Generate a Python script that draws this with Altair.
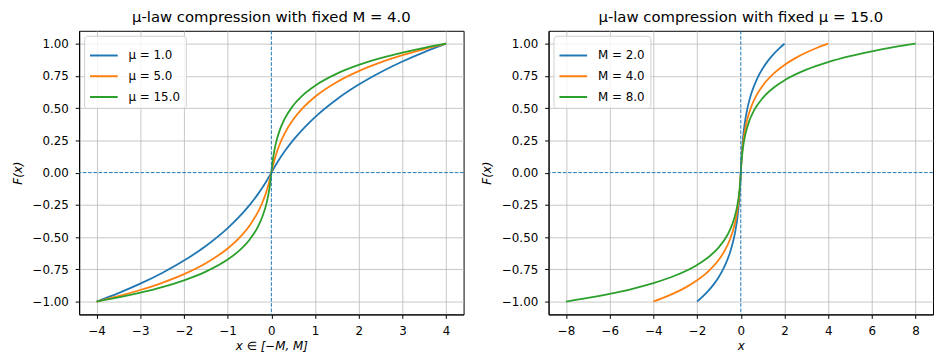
import altair as alt
import pandas as pd

BLUE, ORANGE, GREEN = "#1f77b4", "#ff7f0e", "#2ca02c"

# ---- left panel: fixed M = 4.0 ----
X_LEFT = [-4, -3.5, -3, -2.5, -2, -1.5, -1, -0.75, -0.5, -0.3, -0.2, -0.1, -0.05, -0.025, 0,
          0.025, 0.05, 0.1, 0.2, 0.3, 0.5, 0.75, 1, 1.5, 2, 2.5, 3, 3.5, 4]
F_MU1 = [-1.0, -0.9345, -0.8614, -0.7784, -0.6826, -0.5693, -0.4307, -0.3477, -0.2519, -0.1630,
         -0.1133, -0.0592, -0.0303, -0.0153, 0.0,
         0.0153, 0.0303, 0.0592, 0.1133, 0.1630, 0.2519, 0.3477, 0.4307, 0.5693, 0.6826,
         0.7784, 0.8614, 0.9345, 1.0]
F_MU5 = [-1.0, -0.9584, -0.9107, -0.8549, -0.7876, -0.7029, -0.5885, -0.5118, -0.4115, -0.3010,
         -0.2277, -0.1332, -0.0733, -0.0387, 0.0,
         0.0387, 0.0733, 0.1332, 0.2277, 0.3010, 0.4115, 0.5118, 0.5885, 0.7029, 0.7876,
         0.8549, 0.9107, 0.9584, 1.0]
F_MU15 = [-1.0, -0.9681, -0.9313, -0.8881, -0.8353, -0.7680, -0.6745, -0.6095, -0.5206, -0.4147,
          -0.3372, -0.2229, -0.1361, -0.0775, 0.0,
          0.0775, 0.1361, 0.2229, 0.3372, 0.4147, 0.5206, 0.6095, 0.6745, 0.7680, 0.8353,
          0.8881, 0.9313, 0.9681, 1.0]
LEFT_LABELS = ["μ = 1.0", "μ = 5.0", "μ = 15.0"]

# ---- right panel: fixed mu = 15.0 ----
X_M2 = [-2, -1.75, -1.5, -1.25, -1, -0.75, -0.5, -0.375, -0.25, -0.15, -0.1, -0.05, -0.025, -0.0125, 0,
        0.0125, 0.025, 0.05, 0.1, 0.15, 0.25, 0.375, 0.5, 0.75, 1, 1.25, 1.5, 1.75, 2]
F_M2 = [-1.0, -0.9624, -0.9193, -0.8687, -0.8074, -0.7296, -0.6232, -0.5506, -0.4537, -0.3432,
        -0.2668, -0.1630, -0.0927, -0.0500, 0.0,
        0.0500, 0.0927, 0.1630, 0.2668, 0.3432, 0.4537, 0.5506, 0.6232, 0.7296, 0.8074,
        0.8687, 0.9193, 0.9624, 1.0]
X_M4 = [-4, -3.5, -3, -2.5, -2, -1.5, -1, -0.75, -0.5, -0.3, -0.2, -0.1, -0.05, -0.025, 0,
        0.025, 0.05, 0.1, 0.2, 0.3, 0.5, 0.75, 1, 1.5, 2, 2.5, 3, 3.5, 4]
F_M4 = [-1.0, -0.9681, -0.9313, -0.8881, -0.8353, -0.7680, -0.6745, -0.6095, -0.5206, -0.4147,
        -0.3372, -0.2229, -0.1361, -0.0775, 0.0,
        0.0775, 0.1361, 0.2229, 0.3372, 0.4147, 0.5206, 0.6095, 0.6745, 0.7680, 0.8353,
        0.8881, 0.9313, 0.9681, 1.0]
X_M8 = [-8, -7, -6, -5, -4, -3, -2, -1.5, -1, -0.6, -0.4, -0.2, -0.1, -0.05, -0.02, 0,
        0.02, 0.05, 0.1, 0.2, 0.4, 0.6, 1, 1.5, 2, 3, 4, 5, 6, 7, 8]
F_M8 = [-1.0, -0.9724, -0.9406, -0.9030, -0.8572, -0.7983, -0.7160, -0.6583, -0.5781, -0.4801,
        -0.4058, -0.2891, -0.1911, -0.1167, -0.0547, 0.0,
        0.0547, 0.1167, 0.1911, 0.2891, 0.4058, 0.4801, 0.5781, 0.6583, 0.7160, 0.7983,
        0.8572, 0.9030, 0.9406, 0.9724, 1.0]
RIGHT_LABELS = ["M = 2.0", "M = 4.0", "M = 8.0"]

Y_TICKS = [-1.0, -0.75, -0.5, -0.25, 0.0, 0.25, 0.5, 0.75, 1.0]
X_TICKS_LEFT = [-4, -3, -2, -1, 0, 1, 2, 3, 4]
X_TICKS_RIGHT = [-8, -6, -4, -2, 0, 2, 4, 6, 8]


def build_df(xs_list, ys_list, labels):
    rows = []
    for xs, ys, lab in zip(xs_list, ys_list, labels):
        for i, (a, b) in enumerate(zip(xs, ys)):
            rows.append({"x": a, "y": b, "label": lab, "i": i})
    return pd.DataFrame(rows)


df_left = build_df([X_LEFT, X_LEFT, X_LEFT], [F_MU1, F_MU5, F_MU15], LEFT_LABELS)
df_right = build_df([X_M2, X_M4, X_M8], [F_M2, F_M4, F_M8], RIGHT_LABELS)
zero_df = pd.DataFrame({"z": [0.0]})

GRID_COLOR = {"condition": {"test": "datum.value === 0", "value": "transparent"},
              "value": "#b8b8b8"}


def panel(df, xdom, xticks, xtitle, title, labels):
    xs = alt.Scale(domain=xdom, nice=False, zero=False)
    ys = alt.Scale(domain=[-1.1, 1.1], nice=False, zero=False)
    xaxis = alt.Axis(values=xticks, format="d", title=xtitle, titleFontStyle="italic",
                     titlePadding=5, gridColor=GRID_COLOR)
    yaxis = alt.Axis(values=Y_TICKS, format=".2f", title="F(x)", titleFontStyle="italic",
                     gridColor=GRID_COLOR)
    lines = alt.Chart(df).mark_line(strokeWidth=1.8, interpolate="monotone").encode(
        x=alt.X("x:Q", scale=xs, axis=xaxis),
        y=alt.Y("y:Q", scale=ys, axis=yaxis),
        color=alt.Color("label:N",
                        scale=alt.Scale(domain=labels, range=[BLUE, ORANGE, GREEN]),
                        sort=labels,
                        legend=alt.Legend(title=None, orient="top-left", offset=5,
                                          symbolType="stroke", symbolStrokeWidth=2,
                                          symbolSize=784, labelFontSize=12, rowPadding=0,
                                          labelOffset=10,
                                          padding=5, fillColor="rgba(255,255,255,0.8)",
                                          strokeColor="#d0d0d0", cornerRadius=3,
                                          labelFont="DejaVu Sans", labelColor="black")),
        order="i:Q",
    )
    vrule = alt.Chart(zero_df).mark_rule(color=BLUE, strokeWidth=1, strokeDash=[3.7, 1.6]).encode(
        x=alt.X("z:Q", scale=xs, axis=xaxis))
    hrule = alt.Chart(zero_df).mark_rule(color=BLUE, strokeWidth=1, strokeDash=[3.7, 1.6]).encode(
        y=alt.Y("z:Q", scale=ys, axis=yaxis))
    return alt.layer(lines, vrule, hrule).properties(
        width=389, height=287,
        title=alt.TitleParams(title, fontSize=15, fontWeight="normal", font="DejaVu Sans",
                              color="black", offset=5))


left = panel(df_left, [-4.4, 4.4], X_TICKS_LEFT, "x ∈ [−M, M]",
             "μ-law compression with fixed M = 4.0", LEFT_LABELS)
right = panel(df_right, [-8.8, 8.8], X_TICKS_RIGHT, "x",
              "μ-law compression with fixed μ = 15.0", RIGHT_LABELS)

chart = alt.hconcat(left, right, spacing=15).resolve_scale(color="independent").properties(
    padding={"left": 2, "top": 0, "right": 0, "bottom": 0}
).configure_axis(
    labelFont="DejaVu Sans", labelFontSize=12, labelColor="black",
    titleFont="DejaVu Sans", titleFontSize=12, titleColor="black", titleFontWeight="normal",
    tickColor="black", tickSize=4, domainColor="black",
    gridWidth=0.8, labelPadding=7, titlePadding=8,
).configure_view(stroke="black", strokeWidth=1)

chart.save("out.html", embed_options={"renderer": "svg", "actions": False})
